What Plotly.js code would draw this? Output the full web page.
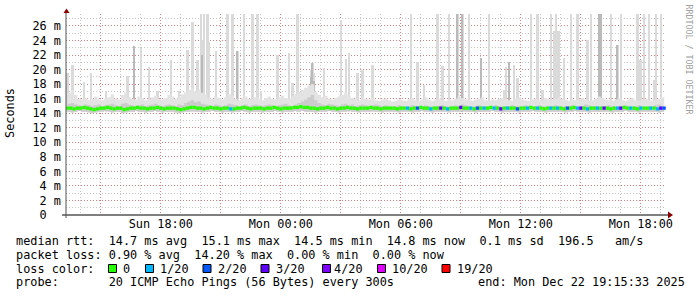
<!DOCTYPE html>
<html><head><meta charset="utf-8">
<script src="https://cdn.plot.ly/plotly-3.0.1.min.js"></script>
<style>html,body{margin:0;padding:0;background:#fff;} #chart{width:697px;height:297px;}</style>
</head><body><div id="chart"></div>
<script>
// ---------- data ----------
const stepStartUTC = Date.UTC(2025, 11, 21, 13, 20); // first 10-minute step
const stepMinutes = 10;
const rangeStart = '2025-12-21 13:15:33';
const rangeEnd = '2025-12-22 19:15:33';

const median = [
14.7,14.7,14.6,14.7,14.7,14.8,14.7,14.6,14.5,14.6,14.7,14.7,14.8,14.7,14.6,14.7,14.7,14.5,14.6,14.7,
14.7,14.8,14.7,14.7,14.6,14.7,14.7,14.8,14.7,14.6,14.7,14.7,14.7,14.6,14.5,14.6,14.7,14.8,14.8,14.7,
14.7,14.6,14.7,14.8,14.7,14.7,14.6,14.7,14.7,14.6,14.6,14.7,14.7,14.8,14.7,14.6,14.7,14.7,14.7,14.6,
14.7,14.7,14.8,14.7,14.6,14.7,14.7,14.7,14.8,14.8,14.9,14.8,14.8,14.7,14.7,14.6,14.7,14.7,14.8,14.7,
14.7,14.6,14.7,14.7,14.8,14.7,14.7,14.6,14.7,14.7,14.7,14.8,14.7,14.7,14.6,14.7,14.7,14.7,14.7,14.6,
14.7,14.7,14.7,14.6,14.7,14.7,14.8,14.7,14.7,14.6,14.7,14.7,14.7,14.7,14.6,14.7,14.7,14.7,14.8,14.7,
14.7,14.7,14.6,14.7,14.7,14.7,14.7,14.8,14.7,14.7,14.6,14.7,14.7,14.7,14.7,14.6,14.7,14.7,14.7,14.8,
14.7,14.7,14.7,14.6,14.7,14.7,14.7,14.7,14.7,14.6,14.7,14.7,14.8,14.7,14.7,14.7,14.6,14.7,14.7,14.7,
14.7,14.7,14.7,14.6,14.7,14.7,14.7,14.8,14.7,14.7,14.7,14.6,14.7,14.7,14.7,14.7,14.7,14.6,14.7,14.7];

const loss = [
0,0,0,0,0,0,0,0,0,0,0,0,0,0,0,0,0,0,0,0,
0,0,0,0,0,0,0,0,0,0,0,0,0,0,0,0,0,0,0,0,
0,0,0,0,0,0,0,0,0,1,0,0,0,0,0,0,0,0,0,0,
0,0,0,0,0,0,0,0,0,0,0,0,0,0,0,0,0,0,0,0,
0,0,0,0,0,0,0,0,0,0,0,0,0,0,0,0,0,0,0,0,
0,0,1,0,0,2,0,0,0,1,0,0,3,0,1,0,0,0,3,0,
0,1,0,2,0,1,0,0,1,0,3,0,1,0,0,2,0,0,1,0,
0,1,0,0,0,1,0,1,0,0,2,0,0,1,3,0,1,0,0,1,
0,3,0,0,0,1,3,0,0,1,0,0,1,0,0,1,0,1,3,2];

const smokeLo = [
14.2,14.1,14.2,14.3,14.2,14.2,14.1,14.0,14.1,14.2,14.2,14.3,14.2,14.1,14.2,14.2,14.0,14.1,14.2,14.2,
14.3,14.2,14.2,14.1,14.2,14.2,14.3,14.2,14.1,14.2,14.2,14.2,14.1,14.0,14.1,14.2,14.2,14.3,14.2,14.2,
14.1,14.2,14.2,14.3,14.2,14.2,14.1,14.2,14.2,14.1,14.2,14.2,14.3,14.2,14.1,14.2,14.2,14.2,14.1,14.2,
14.2,14.2,14.3,14.2,14.1,14.2,14.2,14.2,14.3,14.2,14.3,14.2,14.2,14.2,14.1,14.2,14.2,14.2,14.3,14.2,
14.2,14.1,14.2,14.2,14.3,14.2,14.2,14.1,14.2,14.2,14.2,14.3,14.2,14.2,14.1,14.2,14.2,14.2,14.2,14.1,
14.2,14.2,14.2,14.1,14.2,14.2,14.3,14.2,14.2,14.1,14.2,14.2,14.2,14.2,14.1,14.2,14.2,14.2,14.3,14.2,
14.2,14.2,14.1,14.2,14.2,14.2,14.2,14.3,14.2,14.2,14.1,14.2,14.2,14.2,14.2,14.1,14.2,14.2,14.2,14.3,
14.2,14.2,14.2,14.1,14.2,14.2,14.2,14.2,14.2,14.1,14.2,14.2,14.3,14.2,14.2,14.2,14.1,14.2,14.2,14.2,
14.2,14.2,14.2,14.1,14.2,14.2,14.2,14.3,14.2,14.2,14.2,14.1,14.2,14.2,14.2,14.2,14.2,14.1,14.2,14.2];

const smokeMid = [
15.3,15.4,15.2,15.1,15.0,15.2,15.1,15.0,15.1,15.2,15.0,15.1,15.2,15.3,15.1,15.0,15.3,15.4,15.2,15.1,
15.0,15.1,15.2,15.0,15.1,15.2,15.3,15.1,15.0,15.1,15.2,15.1,15.0,15.2,15.1,15.4,15.6,15.8,15.5,15.6,
15.3,15.2,15.1,15.0,15.2,15.1,15.0,15.1,15.3,15.2,15.1,15.0,15.1,15.2,15.0,15.1,15.2,15.1,15.0,15.1,
15.2,15.1,15.0,15.1,15.2,15.3,15.1,15.0,15.2,15.4,15.6,15.9,16.2,16.5,15.8,15.4,15.2,15.1,15.3,15.2,
15.1,15.0,15.2,15.3,15.1,15.2,15.0,15.1,15.2,15.1,15.0,15.1,15.2,15.1,15.0,15.1,15.0,14.9,15.0,15.1,
15.0,14.9,15.0,15.1,15.0,14.9,15.0,15.1,15.0,14.9,15.0,15.0,15.1,15.0,14.9,15.0,15.1,15.0,15.2,15.1,
15.0,14.9,15.0,15.1,15.0,15.0,14.9,15.0,15.1,15.0,14.9,15.0,15.0,15.1,15.0,14.9,15.0,15.1,15.0,14.9,
15.0,15.1,15.0,14.9,15.0,15.0,15.1,15.0,14.9,15.0,15.0,15.1,15.0,14.9,15.0,15.2,15.1,15.0,15.0,14.9,
15.0,15.0,15.1,15.0,14.9,15.0,15.0,15.1,15.0,14.9,15.0,15.1,15.0,14.9,15.0,15.0,15.1,15.2,15.0,15.1];

const smokeHi = [
16.8,17.2,16.5,16.0,
15.9,16.1,15.8,16.0,16.3,15.9,15.8,16.0,16.2,16.6,16.0,15.9,
16.5,16.8,16.2,16.0,15.9,16.3,16.1,15.8,16.0,16.2,16.4,16.0,15.9,16.1,16.5,
16.3,16.0,16.2,16.6,16.9,17.2,17.5,17.0,17.3,16.8,16.5,16.2,16.0,16.4,16.1,
15.9,16.2,16.6,16.4,16.0,15.8,16.1,16.3,16.0,15.9,16.2,16.0,15.8,16.1,16.3,
16.0,15.9,16.2,16.4,16.1,16.0,16.3,16.6,16.9,17.2,17.5,17.8,18.0,17.0,16.5,
16.2,16.4,16.0,15.9,16.1,16.3,16.5,16.8,16.4,16.1,16.0,15.8,16.2,16.0,15.9,
16.1,15.8,15.7,15.9,16.0,15.8,15.6,15.7,15.9,15.8,15.7,15.9,16.1,15.8,15.7,
15.9,16.2,15.8,15.7,15.9,16.0,15.8,15.7,15.9,15.8,16.0,16.3,16.1,15.9,15.8,
15.7,15.9,16.0,16.2,15.8,15.7,15.9,15.8,16.0,16.1,15.9,15.8,15.7,16.0,16.2,
15.9,15.8,15.7,15.9,16.0,15.8,15.7,16.1,15.9,15.8,16.0,16.2,16.0,15.8,15.7,
15.9,15.8,16.0,16.1,15.9,15.7,15.8,16.0,16.3,16.1,15.9,15.8,15.7,15.9,16.0,
15.8,15.7,15.9,16.1,15.8,15.7,15.9,16.0,15.8,15.7,15.9,16.0,16.2,16.0];

const spikeTimes = [
'2025-12-21 13:20','2025-12-21 13:35','2025-12-21 14:10','2025-12-21 14:30','2025-12-21 15:15',
'2025-12-21 16:20','2025-12-21 16:40','2025-12-21 17:00','2025-12-21 17:25','2025-12-21 17:50',
'2025-12-21 18:30','2025-12-21 18:55','2025-12-21 19:20','2025-12-21 19:35','2025-12-21 19:50',
'2025-12-21 20:00','2025-12-21 20:05','2025-12-21 20:10','2025-12-21 20:20','2025-12-21 20:25',
'2025-12-21 20:45','2025-12-21 21:20','2025-12-21 21:35','2025-12-21 21:50','2025-12-21 22:10',
'2025-12-21 22:35','2025-12-21 22:50','2025-12-21 23:00','2025-12-21 23:50','2025-12-22 00:25',
'2025-12-22 00:35','2025-12-22 00:50','2025-12-22 01:15','2025-12-22 01:30','2025-12-22 01:35',
'2025-12-22 01:40','2025-12-22 02:10','2025-12-22 03:00','2025-12-22 03:15','2025-12-22 03:25',
'2025-12-22 03:50','2025-12-22 04:05','2025-12-22 04:35','2025-12-22 06:30','2025-12-22 06:50',
'2025-12-22 07:10','2025-12-22 07:50','2025-12-22 08:05','2025-12-22 08:25','2025-12-22 08:50',
'2025-12-22 09:05','2025-12-22 09:25','2025-12-22 10:00','2025-12-22 10:25','2025-12-22 11:10',
'2025-12-22 11:15','2025-12-22 11:25','2025-12-22 11:40','2025-12-22 11:50','2025-12-22 12:30',
'2025-12-22 12:50','2025-12-22 13:05','2025-12-22 13:30','2025-12-22 13:40','2025-12-22 13:45',
'2025-12-22 13:50','2025-12-22 13:55','2025-12-22 14:10','2025-12-22 14:30','2025-12-22 14:50',
'2025-12-22 15:20','2025-12-22 15:30','2025-12-22 15:55','2025-12-22 16:00','2025-12-22 16:30',
'2025-12-22 16:50','2025-12-22 17:00','2025-12-22 17:50','2025-12-22 17:55','2025-12-22 18:00',
'2025-12-22 18:10','2025-12-22 18:25','2025-12-22 18:40','2025-12-22 18:45','2025-12-22 19:00'];
const spikeValues = [
19.5,20.7,18.3,19.6,17.0,
19.1,23.2,23.0,20.4,17.0,
21.3,17.0,22.7,26.5,21.3,
27.7,24.1,27.7,27.7,23.8,
22.5,27.7,27.7,22.6,27.7,
27.7,27.7,17.0,22.0,22.3,
18.2,27.7,16.6,20.0,20.9,
19.5,20.2,26.8,21.4,22.3,
19.5,20.0,20.6,27.7,21.0,
17.9,27.7,20.5,27.7,27.7,
27.7,27.7,21.6,27.7,17.2,
20.4,21.0,20.6,18.8,27.7,
27.7,17.2,27.7,25.3,27.7,
25.3,25.3,21.6,27.7,27.7,
24.1,27.7,27.7,27.7,27.7,
23.4,27.7,27.7,21.3,21.3,
27.7,27.7,18.6,27.7,27.7];

const darkTimes = [
'2025-12-21 16:40','2025-12-21 20:05','2025-12-21 21:50','2025-12-22 01:30','2025-12-22 01:35',
'2025-12-22 01:40','2025-12-22 08:50','2025-12-22 09:05','2025-12-22 10:00','2025-12-22 11:25',
'2025-12-22 15:55','2025-12-22 16:00','2025-12-22 16:50'];
const darkValues = [23.2,22.0,22.6,19.0,20.9,18.5,27.7,27.7,21.6,21.0,27.7,27.7,23.4];

const xTickTimes = ['2025-12-21 15:00','2025-12-21 18:00','2025-12-21 21:00','2025-12-22 00:00','2025-12-22 03:00',
'2025-12-22 06:00','2025-12-22 09:00','2025-12-22 12:00','2025-12-22 15:00','2025-12-22 18:00'];
const xTickLabels = ['','Sun 18:00','','Mon 00:00','','Mon 06:00','','Mon 12:00','','Mon 18:00'];
const yTickValues = [0,2,4,6,8,10,12,14,16,18,20,22,24,26];
const yTickLabels = ['0  ','2 m','4 m','6 m','8 m','10 m','12 m','14 m','16 m','18 m','20 m','22 m','24 m','26 m'];

const lossLevels = [0,1,2,3,4,10,19];
const lossLabels = ['0','1/20','2/20','3/20','4/20','10/20','19/20'];
const lossColors = ['#26ff00','#00b8ff','#0059ff','#5e00ff','#7e00ff','#dd00ff','#ff0000'];

const statLines = [
  'median rtt:  14.7 ms avg  15.1 ms max  14.5 ms min  14.8 ms now  0.1 ms sd  196.5   am/s',
  'packet loss: 0.90 % avg  14.20 % max  0.00 % min  0.00 % now'
];
const probeText = 'probe:       20 ICMP Echo Pings (56 Bytes) every 300s';
const endText = 'end: Mon Dec 22 19:15:33 2025';
const lossTitle = 'loss color:';
const yTitle = 'Seconds';
const watermark = 'RRDTOOL / TOBI OETIKER';

// ---------- layout helpers ----------
const L = 66, T = 14, W = 600, H = 201;
const px = x => (x - L) / W;
const py = y => (T + H - y) / H;
const nb = s => s.replace(/ /g, '\u00a0');
const FONT = 'DejaVu Sans Mono';
const FS = 11.85;

const times = median.map((_, i) => new Date(stepStartUTC + i * stepMinutes * 60000).toISOString().replace('T', ' ').slice(0, 19));
const spikeBase = 14.2;
const colorOf = l => lossColors[lossLevels.indexOf(l)];

const traces = [
  {type:'bar', x: spikeTimes, y: spikeValues.map(v => v - spikeBase), base: spikeBase,
   width: 7.5*60000, marker:{color:'#dadada', line:{width:0}}, hoverinfo:'skip'},
  {type:'bar', x: darkTimes, y: darkValues.map(v => v - spikeBase), base: spikeBase,
   width: 6*60000, marker:{color:'#bababa', line:{width:0}}, hoverinfo:'skip'},
  {type:'scatter', mode:'lines', x: times, y: smokeLo, line:{width:0, shape:'hv'}, hoverinfo:'skip'},
  {type:'scatter', mode:'lines', x: times, y: smokeHi, line:{width:0, shape:'hv'}, fill:'tonexty', fillcolor:'#e3e3e3', hoverinfo:'skip'},
  {type:'scatter', mode:'lines', x: times, y: smokeLo, line:{width:0, shape:'hv'}, hoverinfo:'skip'},
  {type:'scatter', mode:'lines', x: times, y: smokeMid, line:{width:0, shape:'hv'}, fill:'tonexty', fillcolor:'#cccccc', hoverinfo:'skip'},
  {type:'scatter', mode:'markers', x: times, y: median,
   marker:{symbol:'square', size:3.3, color: loss.map(colorOf), line:{width:0}}, hoverinfo:'skip'}
];

const annotations = [];
const txt = (s, x, y, extra) => Object.assign({text: nb(s), xref:'paper', yref:'paper', x: px(x), y: py(y),
  xanchor:'left', yanchor:'middle', showarrow:false, borderpad:0, borderwidth:0,
  font:{family:FONT, size:FS, color:'#000'}}, extra || {});
annotations.push(txt(statLines[0], 15.5, 241));
annotations.push(txt(statLines[1], 15.5, 254.5));
annotations.push(txt(lossTitle, 15.5, 268.5));
annotations.push(txt(probeText, 15.5, 282));
annotations.push(txt(endText, 478, 282));
const lossTextX = [123, 160, 218, 276, 334, 392, 457];
const lossBoxX = [108.5, 145.5, 203, 261, 322.5, 377.5, 442];
lossLabels.forEach((lab, i) => annotations.push(txt(lab, lossTextX[i], 268.5)));
annotations.push({text: yTitle, xref:'paper', yref:'paper', x: px(10), y: py(113), textangle:-90,
  xanchor:'center', yanchor:'middle', showarrow:false, font:{family:FONT, size:FS, color:'#000'}});
annotations.push({text: nb(watermark), xref:'paper', yref:'paper', x: px(688.5), y: py(59), textangle:90,
  xanchor:'center', yanchor:'middle', showarrow:false, font:{family:FONT, size:8.3, color:'#a0a0a0'}});

const shapes = [];
lossColors.forEach((c, i) => shapes.push({type:'rect', xref:'paper', yref:'paper', layer:'above',
  x0: px(lossBoxX[i]), x1: px(lossBoxX[i] + 8), y0: py(272.5), y1: py(264.5),
  fillcolor: c, line:{color:'#000', width:1}}));
shapes.push({type:'line', xref:'paper', yref:'paper', layer:'above', x0: px(62), x1: px(668), y0: py(215), y1: py(215), line:{color:'#000', width:1}});
shapes.push({type:'line', xref:'paper', yref:'paper', layer:'above', x0: px(66), x1: px(66), y0: py(218), y1: py(12), line:{color:'#505050', width:1}});
shapes.push({type:'path', xref:'paper', yref:'paper', layer:'above',
  path: `M ${px(63.5)} ${py(13)} L ${px(66.5)} ${py(8.5)} L ${px(69.5)} ${py(13)} Z`, fillcolor:'#8b0000', line:{width:0}});
shapes.push({type:'path', xref:'paper', yref:'paper', layer:'above',
  path: `M ${px(668)} ${py(211.5)} L ${px(673)} ${py(215)} L ${px(668)} ${py(218.5)} Z`, fillcolor:'#8b0000', line:{width:0}});

const majorGrid = 'rgba(230,60,60,0.5)';
const minorGrid = 'rgba(150,150,150,0.55)';
const layout = {
  width: 697, height: 297,
  margin: {l: L, r: 697 - L - W, t: T, b: 297 - T - H, pad: 0},
  paper_bgcolor: '#fff', plot_bgcolor: '#fff',
  showlegend: false, barmode: 'overlay', bargap: 0,
  xaxis: {type:'date', range:[rangeStart, rangeEnd], tickmode:'array', tickvals: xTickTimes, ticktext: xTickLabels,
    showgrid:true, gridcolor: majorGrid, griddash:'1px,2px', gridwidth:1,
    minor:{dtick: 3600000, tick0:'2025-12-21 00:00', showgrid:true, gridcolor: minorGrid, griddash:'1px,2px', gridwidth:1, ticks:''},
    showline:false, zeroline:false, ticks:'', tickfont:{family:FONT, size:FS, color:'#000'}, fixedrange:true},
  yaxis: {range:[0, 27.65], tickmode:'array', tickvals: yTickValues, ticktext: yTickLabels.map(nb),
    showgrid:true, gridcolor: majorGrid, griddash:'1px,2px', gridwidth:1,
    minor:{dtick: 1, tick0: 0, showgrid:true, gridcolor: minorGrid, griddash:'1px,2px', gridwidth:1, ticks:''},
    showline:false, zeroline:false, ticks:'', ticklabelstandoff: 4, tickfont:{family:FONT, size:FS, color:'#000'}, fixedrange:true},
  annotations, shapes
};
Plotly.newPlot('chart', traces, layout, {staticPlot:true, displayModeBar:false});
</script></body></html>
